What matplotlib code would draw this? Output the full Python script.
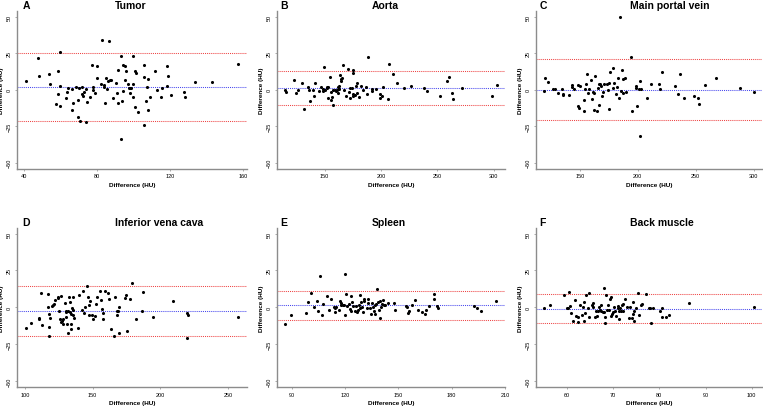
import matplotlib
matplotlib.use("Agg")
import matplotlib.pyplot as plt
import numpy as np

plt.rcParams['font.family'] = ['Liberation Sans', 'DejaVu Sans']

letters = ["A", "B", "C", "D", "E", "F"]
titles = ["Tumor", "Aorta", "Main portal vein", "Inferior vena cava", "Spleen", "Back muscle"]
xlabel_text = "Difference (HU)"
ylabel_text = "Difference (HU)"
y_ticks = [-50, -25, 0, 25, 50]
x_ticks_A = [40, 80, 120, 160]
x_ticks_B = [150, 200, 250, 300]
x_ticks_C = [150, 200, 250, 300]
x_ticks_D = [100, 150, 200, 250]
x_ticks_E = [90, 120, 150, 180, 210]
x_ticks_F = [60, 70, 80, 90, 100]

bias = [1.8, 1.0, -0.2, -2.4, 1.4, -0.9]
upper_loa = [25.3, 12.8, 20.9, 14.5, 11.3, 9.2]
lower_loa = [-21.7, -10.8, -21.1, -19.2, -8.6, -10.8]

tumor_x = [41.1, 47.8, 48.4, 54.0, 54.3, 59.9, 58.6, 59.9, 58.6, 57.5, 59.9, 63.7, 64.2, 63.3, 66.5, 66.8,
           66.5, 68.7, 70.2, 69.8, 69.8, 71.1, 72.0, 72.0, 72.6, 73.2, 74.1, 74.1, 74.8, 76.1, 77.3, 78.0,
           78.0, 78.9, 79.9, 79.9, 82.3, 82.9, 83.8, 84.2, 84.5, 85.1, 85.5, 86.0, 86.6, 87.3, 87.9, 88.8,
           90.3, 91.1, 91.6, 91.6, 93.5, 93.5, 93.8, 94.4, 94.4, 95.2, 95.5, 95.9, 96.8, 97.4, 97.9, 98.1,
           98.7, 99.6, 100.0, 100.0, 100.9, 100.9, 101.3, 102.4, 105.6, 105.6, 106.0, 106.7, 107.5, 108.2,
           108.2, 109.3, 111.7, 112.7, 114.9, 115.6, 118.1, 118.3, 119.0, 120.5, 127.4, 128.3, 133.5,
           143.0, 157.4]
tumor_y = [5.7, 21.5, 9.1, 10.5, 4.1, 25.8, 12.6, 2.7, -3.0, -9.6, -11.4, -1.6, 0.9, -5.7, 0.2, -8.9,
           -13.9, 2.1, 1.4, -7.1, -18.5, -21.2, 2.1, -3.2, -4.3, -1.6, 0.2, -22.1, -8.4, -5.0, 16.7, 2.1,
           -0.5, -2.5, 16.2, 8.0, 4.1, 34.0, 1.8, 3.0, -8.9, 8.0, 0.2, 5.9, 33.1, 6.4, 6.8, -5.9,
           4.8, -2.5, 13.5, -9.1, 23.3, -34.0, -8.0, -0.7, 16.9, 16.2, 6.6, 13.0, 3.9, 1.4, -2.1, 1.1,
           1.4, 3.9, 23.1, -5.0, 12.8, -12.1, 11.2, -15.3, 8.9, 16.7, -24.2, -7.8, 1.8, 7.1,
           -13.9, -4.8, 13.0, 0.0, -4.8, 0.9, 16.4, 2.5, 9.1, -3.7, -1.6, -5.3, 5.5,
           5.0, 17.4]

aorta_x = [115.1, 115.7, 122.9, 125.0, 126.1, 130.0, 132.1, 135.4, 136.3, 137.5, 140.2, 140.5, 141.4,
           144.9, 147.3, 148.2, 148.5, 149.4, 150.6, 151.8, 152.1, 153.0, 153.3, 154.5, 155.4, 155.4,
           156.3, 157.2, 157.8, 159.2, 160.1, 161.3, 161.6, 162.2, 162.8, 163.1, 163.7, 164.6, 164.9,
           165.8, 166.7, 167.3, 168.8, 171.2, 171.8, 172.4, 172.4, 173.9, 174.8, 175.4, 175.1, 175.6,
           177.1, 177.7, 178.6, 179.2, 180.1, 182.2, 183.7, 187.0, 188.2, 187.3, 191.8, 192.1, 195.6,
           198.9, 199.2, 201.3, 201.9, 206.1, 207.0, 210.5, 213.8, 220.4, 226.4, 238.3, 240.4, 252.6,
           258.3, 260.3, 263.3, 264.2, 271.7, 298.5, 302.4]
aorta_y = [0.0, -1.8, 6.5, -2.6, 0.0, 4.3, -13.0, 2.0, -0.2, -7.8, 0.0, -4.2, 4.9,
           -0.9, 2.0, 0.6, -0.7, 15.3, -0.5, 0.9, 1.8, 1.6, -5.6, 8.5, -1.4, -7.4,
           -5.3, -10.3, 0.0, -0.2, -1.1, -0.2, -2.5, 1.8, 2.3, 0.5, 9.9, 7.3, 5.7,
           7.9, 16.9, 0.0, -4.1, 14.2, -1.4, 0.9, -5.6, 1.4, 13.3, 11.5, -2.7, -4.1,
           -3.4, 2.3, 4.3, -2.3, -5.3, 2.5, 0.0, 1.8, 22.6, -3.1, 0.5, -0.9, 0.5,
           -2.9, -5.6, -4.2, 2.0, -6.2, 17.8, 10.5, 4.3, 1.1, 2.7, 0.9, -0.7, -4.1,
           6.1, 8.6, -2.0, -6.2, 1.1, -4.2, 3.0]

portal_x = [119.1, 119.9, 122.3, 127.2, 128.6, 130.9, 134.9, 135.3, 135.5, 140.2, 142.8, 143.1, 145.1,
            148.3, 149.4, 148.8, 150.0, 153.2, 153.8, 154.6, 155.2, 156.1, 156.6, 158.1, 159.5, 160.4,
            161.6, 161.8, 162.4, 163.3, 164.5, 165.3, 166.2, 166.5, 167.6, 168.2, 169.4, 169.7, 170.8,
            173.7, 174.3, 174.9, 175.4, 176.3, 178.3, 178.3, 179.2, 181.2, 182.1, 182.9, 184.1, 185.0,
            185.5, 186.1, 187.0, 187.3, 188.7, 189.9, 194.2, 194.8, 198.6, 198.8, 199.7, 200.9, 201.7,
            202.0, 203.2, 207.8, 211.0, 218.8, 218.2, 221.1, 232.4, 234.7, 236.7, 239.9, 248.6, 251.7,
            252.6, 258.4, 267.1, 287.9, 300.0]
portal_y = [-0.9, 8.0, 5.0, 0.7, 0.7, -2.0, 0.7, -3.0, -3.6, -3.9, 3.2, 1.8, 0.7,
            -11.4, -12.3, 3.2, 2.3, -7.3, -14.8, 0.7, 4.1, 10.9, -2.3, 0.7, 6.8, -6.4,
            -1.4, -14.1, -2.5, 9.5, -14.5, 0.9, 3.6, -10.5, 4.1, 2.5, -4.1, -1.4, 3.6,
            4.1, -0.2, -13.0, 4.5, 12.3, 15.0, 0.9, 4.8, -3.2, 1.6, 8.2, -5.5, 49.8,
            -0.9, 13.2, -2.0, 7.3, 8.2, -1.8, 22.3, -14.8, 2.7, 0.9, -11.4, 0.7, -32.0,
            5.9, 0.7, -5.5, 4.1, 0.7, 4.1, 11.8, 2.5, -3.0, 10.9, -5.5, -4.5, -5.5,
            -10.0, 3.2, 8.2, 0.9, -1.4]

ivc_x = [100.5, 104.8, 110.5, 110.5, 112.3, 112.5, 116.8, 117.1, 117.6, 117.6, 118.1, 118.8, 120.1,
         120.6, 121.3, 122.6, 124.3, 124.8, 125.1, 125.6, 126.8, 126.8, 127.6, 128.1, 128.1, 129.3,
         130.1, 130.6, 130.6, 130.9, 131.9, 131.9, 132.4, 133.6, 133.6, 133.9, 133.9, 134.4, 135.1,
         135.6, 135.6, 135.6, 136.1, 139.4, 140.1, 141.9, 143.1, 143.9, 144.6, 146.2, 146.9, 147.4,
         147.7, 148.2, 149.4, 150.2, 151.7, 152.4, 153.2, 155.2, 156.4, 157.2, 157.4, 157.7, 159.4,
         161.2, 161.9, 163.7, 165.7, 166.9, 168.2, 168.2, 168.7, 169.7, 169.5, 173.7, 174.7, 175.2,
         177.7, 179.5, 182.3, 186.3, 187.0, 194.6, 209.1, 220.1, 220.6, 220.1, 257.8]
ivc_y = [-14.0, -10.6, -7.2, -7.9, 9.5, -11.8, 9.0, 0.0, -13.1, -19.5, -4.5, -7.2, 0.7,
         1.8, 2.5, 5.0, 7.2, 6.1, -2.3, -7.7, 7.9, -10.0, -9.0, -7.9, -11.3, 2.7,
         -2.7, -3.2, -6.8, -11.3, -2.7, -17.6, 7.2, 3.6, -3.2, -11.3, -14.7, -4.5, -0.5,
         -1.8, -5.2, 6.8, -7.5, -14.3, 8.4, -1.8, 10.9, -4.1, 0.0, 14.7, 7.2, 1.4,
         -5.0, 4.5, -5.4, -8.1, -6.1, 2.3, 6.8, 11.3, 4.8, -1.4, -3.8, -7.9, 10.9,
         9.7, 5.7, -14.7, -19.5, 7.2, -2.3, -5.4, -2.7, 0.0, -17.6, 6.1, 8.1, -15.8,
         5.7, 16.5, -7.9, -2.7, 10.2, -6.8, 4.3, -4.1, -5.2, -20.6, -6.3]

spleen_x = [86.3, 89.8, 97.8, 99.1, 100.9, 102.7, 104.3, 104.9, 105.8, 106.8, 107.7, 110.1, 110.9,
            112.3, 113.6, 114.2, 114.6, 115.1, 116.4, 117.0, 117.6, 117.9, 118.9, 119.2, 119.9, 120.2,
            120.5, 121.3, 122.0, 122.6, 123.3, 123.5, 123.9, 124.5, 125.4, 126.1, 126.7, 127.1, 127.6,
            128.2, 128.7, 129.1, 129.5, 129.9, 130.4, 130.8, 132.3, 132.7, 133.2, 134.1, 134.7, 135.3,
            135.6, 136.2, 136.6, 136.9, 137.5, 137.9, 138.4, 139.3, 139.7, 139.9, 140.3, 140.7, 141.4,
            142.1, 142.5, 144.0, 147.5, 148.2, 154.4, 155.0, 155.3, 156.1, 157.7, 159.4, 161.3, 163.1,
            164.8, 165.6, 167.4, 169.8, 170.2, 171.9, 172.4, 192.4, 194.4, 196.7, 204.8]
spleen_y = [-11.3, -5.0, -3.8, 3.8, 9.7, 0.5, 4.1, -2.3, 21.4, -5.0, 2.5, 7.7, -1.8,
            5.6, 0.0, -3.4, -0.7, 0.5, -1.8, 4.1, 1.8, 2.7, 1.8, 1.8, 22.3, -5.2,
            9.2, 1.1, 2.3, -1.4, 7.7, -2.7, 3.8, 1.1, -2.3, 1.1, -2.9, -1.8, 1.8,
            -0.5, 8.3, 3.4, 0.5, -3.2, 4.5, 5.9, -0.5, 2.7, 5.4, -0.5, -4.5, 3.2,
            0.0, -2.7, -4.5, 1.8, 2.3, 12.4, 3.4, -1.8, 4.1, -7.0, 0.0, 2.3, 4.7,
            1.4, 1.8, 2.7, 2.9, -1.6, 1.1, 0.5, -3.6, -2.7, 1.8, 5.2, -1.8, -3.2,
            -4.7, -1.6, 0.9, 5.6, 9.0, 1.1, -0.5, 1.1, -0.7, -2.7, 4.1]

muscle_x = [55.1, 56.4, 59.4, 60.0, 60.2, 60.5, 60.7, 61.0, 61.4, 61.7, 62.0, 62.4, 62.5, 62.8, 63.3,
            63.6, 63.7, 63.8, 64.0, 64.1, 64.5, 64.8, 64.9, 65.4, 65.6, 65.7, 66.2, 66.3, 66.6, 66.8,
            67.0, 67.2, 67.4, 67.5, 67.8, 68.0, 68.1, 68.3, 68.3, 68.4, 68.7, 68.9, 69.1, 69.3, 69.5,
            69.6, 69.8, 70.1, 70.2, 70.4, 70.7, 71.0, 71.1, 71.3, 71.4, 71.6, 71.8, 72.0, 72.1, 72.2,
            72.7, 73.0, 73.4, 73.7, 74.1, 74.3, 74.4, 74.5, 74.6, 75.0, 75.5, 75.7, 76.0, 76.2, 77.2,
            77.8, 78.0, 78.3, 78.6, 80.2, 80.6, 80.7, 81.5, 82.0, 86.4, 100.4]
muscle_y = [-0.7, 1.8, 8.1, -0.7, -0.7, 10.4, 0.7, -4.1, -9.0, 5.2, -5.9, -6.8, -9.7, 1.6, -5.0,
            0.0, -9.5, 3.8, -3.6, 8.3, -0.5, 9.7, -6.8, 1.8, 0.0, 2.7, -6.8, -2.7, -6.1, -2.7,
            0.2, -1.6, 1.8, -2.3, -2.9, 13.1, -3.4, -6.8, -10.8, 8.6, -1.8, 1.8, -1.8, 5.9, -5.6,
            7.0, -4.7, -3.4, 0.0, -2.3, -5.9, -0.5, 1.1, -8.1, -2.3, -0.5, -2.7, 1.4, 2.3, -2.7,
            5.6, 0.0, -7.4, 0.5, -7.2, -4.5, 3.4, -9.0, -2.7, -0.7, 9.7, -5.4, 1.4, 2.3, 9.0,
            -0.7, -0.7, -10.8, -0.5, -2.3, -6.8, -0.5, -6.8, -5.2, 2.9, 0.2]

xs = [tumor_x, aorta_x, portal_x, ivc_x, spleen_x, muscle_x]
ys = [tumor_y, aorta_y, portal_y, ivc_y, spleen_y, muscle_y]
xticks = [x_ticks_A, x_ticks_B, x_ticks_C, x_ticks_D, x_ticks_E, x_ticks_F]

W, H = 763, 410
fig = plt.figure(figsize=(W / 100, H / 100), dpi=100)

# panel boxes in pixels: left, right, top, bottom
col_lr = [(17, 247), (276.7, 505), (535.7, 762)]
row_tb = [(11.9, 169.5), (228.7, 387.9)]
title_x = [115, 371.7, 630]
letter_x = [22.5, 280.5, 539.5]
head_y = [6, 223]

spine_col = "#8c8c8c"
for i in range(6):
    r, c = divmod(i, 3)
    l, rr = col_lr[c]
    t, b = row_tb[r]
    ax = fig.add_axes([l / W, 1 - b / H, (rr - l) / W, (b - t) / H])
    x = np.array(xs[i]); y = np.array(ys[i])
    pad = 0.04 * (x.max() - x.min())
    ax.set_xlim(x.min() - pad, x.max() + pad)
    ax.set_ylim(-54, 54)
    ax.axhline(upper_loa[i], color="#ee4444", ls=(0, (1, 1)), lw=0.75)
    ax.axhline(lower_loa[i], color="#ee4444", ls=(0, (1, 1)), lw=0.75)
    ax.axhline(bias[i], color="#4848ee", ls=(0, (1, 1)), lw=0.75)
    ax.scatter(x, y, s=5, color="black", linewidths=0, zorder=3)
    for s in ["top", "right"]:
        ax.spines[s].set_visible(False)
    for s in ["left", "bottom"]:
        ax.spines[s].set_color(spine_col)
        ax.spines[s].set_linewidth(1.0)
    ax.set_xticks(xticks[i])
    ax.set_yticks(y_ticks)
    ax.tick_params(axis="both", length=1.5, width=0.5, color=spine_col, labelsize=4, pad=2)
    for lab in ax.get_yticklabels():
        lab.set_rotation(90)
        lab.set_va("center")
    ax.set_xlabel(xlabel_text, fontsize=4.6, fontweight="bold", labelpad=2.5)
    ax.set_ylabel(ylabel_text, fontsize=4.6, fontweight="bold", labelpad=2.0)
    fig.text(letter_x[c] / W, 1 - head_y[r] / H, letters[i], fontsize=7.5,
             fontweight="bold", ha="left", va="center")
    fig.text(title_x[c] / W, 1 - head_y[r] / H, titles[i], fontsize=7.5,
             fontweight="bold", ha="left", va="center")

fig.savefig("out.png", dpi=100)
